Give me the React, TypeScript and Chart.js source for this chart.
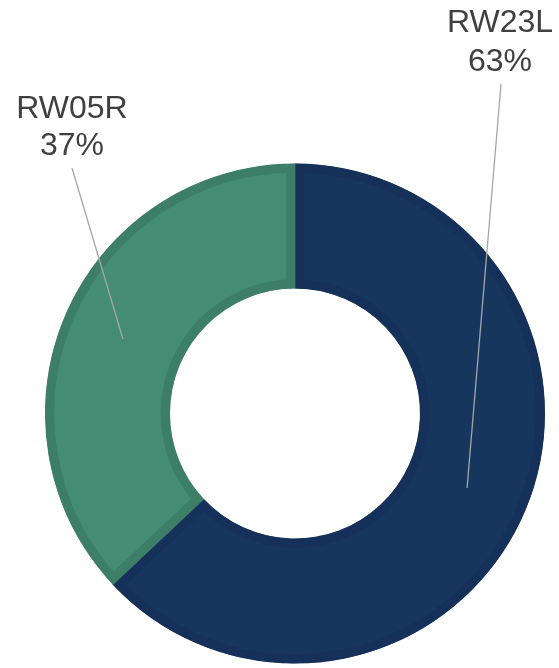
import React, { useEffect, useRef } from "react";
import { Chart, registerables } from "chart.js";

Chart.register(...registerables);

const categories = ["RW23L", "RW05R"];
const shares = [63, 37];
const fillColors = ["#17365E", "#448C74"];
const borderColors = ["#15315A", "#3D7E69"];

const calloutPlugin = {
  id: "callouts",
  afterDatasetsDraw(chart: any, _args: any, opts: any) {
    const ctx = chart.ctx;
    const meta = chart.getDatasetMeta(0);
    const anchors = opts.anchors || [];
    meta.data.forEach((arc: any, i: number) => {
      const p = arc.getProps(["x", "y", "startAngle", "endAngle", "innerRadius", "outerRadius"], true);
      const mid = (p.startAngle + p.endAngle) / 2;
      const r = (p.innerRadius + p.outerRadius) / 2;
      const sx = p.x + Math.cos(mid) * r;
      const sy = p.y + Math.sin(mid) * r;
      const a = anchors[i];
      if (!a) return;
      ctx.save();
      ctx.strokeStyle = "#A6A6A6";
      ctx.lineWidth = 1.3;
      ctx.beginPath();
      ctx.moveTo(sx, sy);
      ctx.lineTo(a.lx, a.ly);
      ctx.stroke();
      ctx.fillStyle = "#404040";
      ctx.font = "32px 'Liberation Sans', Arial, sans-serif";
      ctx.textAlign = "center";
      ctx.textBaseline = "middle";
      const label = chart.data.labels[i];
      const v = chart.data.datasets[0].data[i];
      ctx.fillText(String(label), a.x, a.y1);
      ctx.fillText(v + "%", a.x, a.y2);
      ctx.restore();
    });
  },
};

export default function App() {
  const ref = useRef<HTMLCanvasElement | null>(null);
  useEffect(() => {
    if (!ref.current) return;
    const chart = new Chart(ref.current, {
      type: "doughnut",
      data: {
        labels: categories,
        datasets: [
          {
            data: shares,
            backgroundColor: fillColors,
            borderColor: borderColors,
            borderWidth: 9,
            borderAlign: "inner",
          } as any,
        ],
      },
      options: {
        responsive: false,
        animation: false,
        radius: 250,
        cutout: "50%",
        layout: { padding: { left: 31, right: 0, top: 159, bottom: 0 } },
        plugins: {
          legend: { display: false },
          tooltip: { enabled: false },
          callouts: {
            anchors: [
              { x: 500, y1: 23, y2: 62, lx: 501, ly: 84 },
              { x: 72, y1: 109, y2: 146, lx: 72, ly: 168 },
            ],
          },
        } as any,
        events: [],
      },
      plugins: [calloutPlugin],
    });
    return () => chart.destroy();
  }, []);
  return (
    <canvas
      ref={ref}
      width={559}
      height={668}
      style={{ position: "absolute", left: 0, top: 0, display: "block", width: 559, height: 668 }}
    />
  );
}
